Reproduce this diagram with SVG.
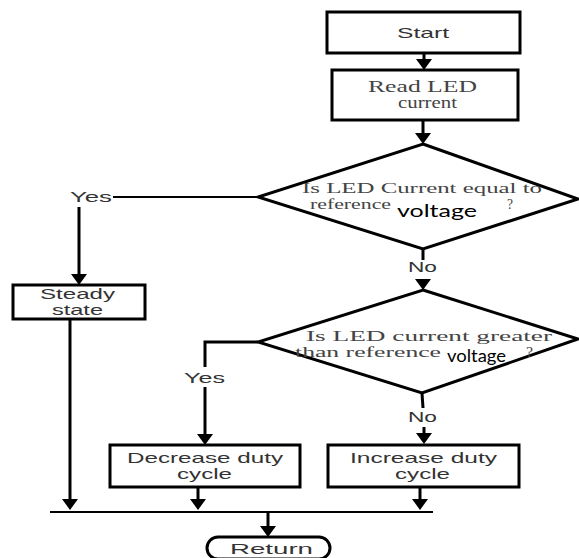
<svg xmlns="http://www.w3.org/2000/svg" width="579" height="558" viewBox="0 0 579 558">
<style>
.box{fill:#fff;stroke:#000;stroke-width:3}
.ln{fill:none;stroke:#000;stroke-width:3}
.thin{fill:none;stroke:#000;stroke-width:2.2}
.arr{marker-end:url(#ah)}
.sans{font-family:"Liberation Sans",Arial,sans-serif;font-size:15px;fill:#333}
.serif{font-family:"Liberation Serif","Times New Roman",serif;font-size:16px;fill:#444}
.dserif{font-family:"Liberation Serif","Times New Roman",serif;font-size:14px;fill:#444}
.cal{font-family:Lato,"Open Sans",sans-serif;font-size:17px;fill:#000}
</style>
<defs>
<marker id="ah" markerUnits="userSpaceOnUse" markerWidth="11" markerHeight="16" viewBox="0 0 11 16" refX="6" refY="8" orient="auto">
<path d="M0,0 L11,8 L0,16 z" fill="#000"/>
</marker>
</defs>
<rect width="579" height="558" fill="#fff"/>
<g id="connectors">
<line class="ln arr" x1="424" y1="53" x2="424" y2="65"/>
<line class="ln arr" x1="423" y1="120" x2="423" y2="139"/>
<polyline class="thin" points="258,197 113,197"/>
<line class="ln arr" x1="79" y1="207" x2="79" y2="280"/>
<line class="ln" x1="423" y1="249" x2="423" y2="260"/>
<line class="ln arr" x1="423" y1="279" x2="423" y2="285"/>
<line class="ln arr" x1="70" y1="319" x2="70" y2="505"/>
<polyline class="ln" points="258,342 205,342 205,367"/>
<line class="ln arr" x1="205" y1="387" x2="205" y2="440"/>
<line class="ln" x1="422" y1="393" x2="423" y2="408"/>
<line class="ln arr" x1="424" y1="427" x2="424" y2="439"/>
<line class="ln arr" x1="198" y1="487" x2="198" y2="505"/>
<line class="ln arr" x1="420" y1="487" x2="420" y2="505"/>
<line class="thin" x1="50" y1="512" x2="433" y2="512"/>
<line class="ln arr" x1="268" y1="512" x2="268" y2="532"/>
<text class="sans" x="70" y="202" textLength="42" lengthAdjust="spacingAndGlyphs">Yes</text>
<text class="sans" x="408" y="272" textLength="29" lengthAdjust="spacingAndGlyphs">No</text>
<text class="sans" x="184" y="383" textLength="41" lengthAdjust="spacingAndGlyphs">Yes</text>
<text class="sans" x="408" y="422" textLength="29" lengthAdjust="spacingAndGlyphs">No</text>
</g>
<g id="start">
<rect class="box" x="327" y="12" width="193" height="41" stroke-width="3.5"/>
<text class="sans" x="397" y="38" textLength="52" lengthAdjust="spacingAndGlyphs">Start</text>
</g>
<g id="read">
<rect class="box" x="332" y="70" width="186" height="50"/>
<text class="serif" x="368" y="92" textLength="109" lengthAdjust="spacingAndGlyphs">Read  LED</text>
<text class="serif" x="398" y="108" textLength="59" lengthAdjust="spacingAndGlyphs">current</text>
</g>
<g id="decision1">
<polygon class="box" points="423,144 578,199 423,249 258,197"/>
<text class="dserif" x="302" y="193" textLength="240" lengthAdjust="spacingAndGlyphs">Is LED Current equal to</text>
<text class="dserif" x="310" y="209" textLength="81" lengthAdjust="spacingAndGlyphs">reference</text>
<text class="cal" x="397" y="217" textLength="80" lengthAdjust="spacingAndGlyphs">voltage</text>
<text class="dserif" x="507" y="209" textLength="6" lengthAdjust="spacingAndGlyphs">?</text>
</g>
<g id="steady">
<rect class="box" x="13" y="285" width="132" height="34"/>
<text class="sans" x="40" y="299" textLength="75" lengthAdjust="spacingAndGlyphs">Steady</text>
<text class="sans" x="52" y="315" textLength="51" lengthAdjust="spacingAndGlyphs">state</text>
</g>
<g id="decision2">
<polygon class="box" points="423,290 578,339 422,393 258,342"/>
<text class="dserif" x="306" y="341" textLength="246" lengthAdjust="spacingAndGlyphs">Is LED current greater</text>
<text class="dserif" x="295" y="357" textLength="146" lengthAdjust="spacingAndGlyphs">than reference</text>
<text class="cal" x="447" y="362" textLength="59" lengthAdjust="spacingAndGlyphs">voltage</text>
<text class="dserif" x="526" y="357" textLength="7" lengthAdjust="spacingAndGlyphs">?</text>
</g>
<g id="decrease">
<rect class="box" x="110" y="445" width="190" height="42"/>
<text class="sans" x="127" y="463" textLength="156" lengthAdjust="spacingAndGlyphs">Decrease duty</text>
<text class="sans" x="177" y="479" textLength="55" lengthAdjust="spacingAndGlyphs">cycle</text>
</g>
<g id="increase">
<rect class="box" x="328" y="445" width="191" height="42"/>
<text class="sans" x="350" y="463" textLength="147" lengthAdjust="spacingAndGlyphs">Increase duty</text>
<text class="sans" x="395" y="479" textLength="55" lengthAdjust="spacingAndGlyphs">cycle</text>
</g>
<g id="return">
<rect class="box" x="207" y="537" width="123" height="22" rx="11" ry="11"/>
<text class="sans" x="230" y="554" textLength="83" lengthAdjust="spacingAndGlyphs">Return</text>
</g>
</svg>
